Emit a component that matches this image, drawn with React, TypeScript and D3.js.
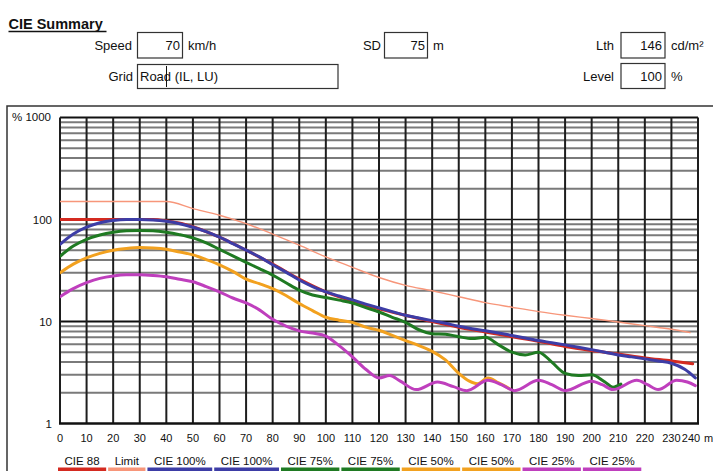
import React from 'react';
import * as d3 from 'd3';

// Data (distance m, luminance %)
const limitData: [number, number][] = [
  [0, 150], [40, 150], [50, 128], [60, 110], [70, 91], [80, 72], [90, 56], [100, 43],
  [110, 34], [120, 27], [130, 22.6], [140, 20], [150, 17.5], [160, 15.3], [170, 13.8],
  [180, 12.5], [190, 11.5], [200, 10.7], [210, 9.9], [220, 9.1], [230, 8.4], [237, 7.8],
];
const cie88Data: [number, number][] = [
  [0, 100], [35, 100], [40, 97], [50, 85], [60, 67], [70, 50], [80, 36.5], [90, 26],
  [100, 19.5], [110, 15.8], [120, 13.3], [130, 11.5], [140, 10], [150, 8.8], [160, 7.9],
  [170, 7.1], [180, 6.4], [190, 5.7], [200, 5.2], [210, 4.8], [220, 4.4], [230, 4.1], [238, 3.85],
];
const cie100Data: [number, number][] = [
  [0, 57], [5, 72], [10, 84], [15, 93], [20, 98], [25, 100], [30, 100], [35, 99], [40, 96],
  [45, 91], [50, 84], [55, 76], [60, 67], [65, 58], [70, 50], [75, 43], [80, 36], [85, 30.5],
  [90, 25.5], [95, 22], [100, 19.5], [105, 17.8], [110, 16.3], [115, 14.8], [120, 13.6],
  [125, 12.5], [130, 11.5], [135, 10.8], [140, 10.2], [145, 9.6], [150, 9], [155, 8.5],
  [160, 8.1], [165, 7.7], [170, 7.3], [175, 6.9], [180, 6.5], [185, 6.2], [190, 5.9],
  [195, 5.6], [200, 5.3], [205, 5], [210, 4.7], [215, 4.5], [220, 4.3], [225, 4.1],
  [230, 3.9], [235, 3.4], [239, 2.8],
];
const cie75Data: [number, number][] = [
  [0, 43.6], [5, 55], [10, 64], [15, 70.5], [20, 75], [25, 77.5], [30, 78], [35, 77.5],
  [40, 75], [45, 71], [50, 66], [55, 59], [60, 51], [65, 44], [70, 38], [75, 33], [80, 28.5],
  [85, 24], [90, 20.3], [95, 18.2], [100, 17.2], [105, 16.2], [110, 15.2], [115, 13.7],
  [120, 12.4], [125, 11], [130, 9.8], [135, 8.3], [140, 7.6], [145, 7.5], [150, 7.1],
  [155, 6.8], [160, 7], [165, 5.9], [170, 5], [175, 4.7], [180, 5], [185, 4], [190, 3.1],
  [195, 2.95], [200, 3], [205, 2.55], [208, 2.27], [211, 2.43],
];
const cie50Data: [number, number][] = [
  [0, 30], [5, 36.5], [10, 42], [15, 46.5], [20, 50], [25, 52], [30, 53], [35, 52.5],
  [40, 51], [45, 48], [50, 45], [55, 40.5], [60, 36], [65, 31], [70, 26], [75, 23.5],
  [80, 21], [85, 18], [90, 15], [95, 12.8], [100, 11], [105, 10.3], [110, 9.8], [115, 8.8],
  [120, 8.2], [125, 7.3], [130, 6.5], [135, 5.8], [140, 5.1], [145, 4.2], [150, 3.1],
  [154, 2.6], [157, 2.45], [161, 2.8], [165, 2.5], [169, 2.2],
];
const cie25Data: [number, number][] = [
  [0, 17.5], [5, 21], [10, 24], [15, 26.5], [20, 28], [25, 28.7], [30, 28.7], [35, 28.3],
  [40, 27.5], [45, 26], [50, 24.5], [55, 22], [60, 19.5], [65, 17], [70, 15.2], [75, 13],
  [80, 10.5], [85, 9], [90, 8.1], [95, 7.7], [100, 7.2], [105, 5.8], [110, 4.5], [115, 3.4],
  [120, 2.8], [124, 2.95], [128, 2.6], [134, 2.15], [142, 2.55], [148, 2.3], [153, 2.1],
  [161, 2.65], [166, 2.4], [171, 2.1], [180, 2.65], [185, 2.4], [190, 2.1], [200, 2.6],
  [204, 2.4], [208, 2.15], [217, 2.65], [221, 2.4], [225, 2.15], [232, 2.65], [236, 2.55],
  [239, 2.35],
];

const xTicks = d3.range(0, 241, 10);
const yDecades = [1, 10, 100, 1000];
const yLabels = ['1', '10', '100', '% 1000'];

const legendLabels = ['CIE 88', 'Limit', 'CIE 100%', 'CIE 100%', 'CIE 75%', 'CIE 75%', 'CIE 50%', 'CIE 50%', 'CIE 25%', 'CIE 25%'];
const legendColors = ['#d42a20', '#f7967a', '#3d3da6', '#3d3da6', '#1f7a22', '#1f7a22', '#f2a11f', '#f2a11f', '#bf3fbd', '#bf3fbd'];

const FONT = 'Arial, "Liberation Sans", Helvetica, sans-serif';

function measure(text: string, size: number) {
  const c = document.createElement('canvas').getContext('2d');
  if (!c) return text.length * size * 0.55;
  c.font = `${size}px "Liberation Sans", Arial, sans-serif`;
  return c.measureText(text).width;
}

export default function App() {
  const x = d3.scaleLinear().domain([0, 240]).range([60, 698]);
  const y = d3.scaleLog().domain([1, 1000]).range([423.5, 117.5]);

  const line = d3.line<[number, number]>()
    .x(d => x(d[0]))
    .y(d => y(d[1]))
    .curve(d3.curveMonotoneX);

  const minors: number[] = [];
  [1, 10, 100].forEach(dec => {
    for (let k = 2; k <= 9; k++) minors.push(dec * k);
  });

  const series = [
    { data: limitData, color: legendColors[1], width: 1.4 },
    { data: cie88Data, color: legendColors[0], width: 3 },
    { data: cie100Data, color: legendColors[2], width: 3 },
    { data: cie75Data, color: legendColors[4], width: 3 },
    { data: cie50Data, color: legendColors[6], width: 3 },
    { data: cie25Data, color: legendColors[8], width: 3 },
  ];

  // legend layout
  let lx = 58;
  const legend = legendLabels.map((label, i) => {
    const w = measure(label, 11.5) + 13;
    const item = { label, color: legendColors[i], x: lx, w };
    lx += w + 2;
    return item;
  });

  const [x0, x1] = x.range();

  return (
    <svg width={713} height={471} style={{ position: 'absolute', left: 0, top: 0, background: '#fff' }}
      fontFamily={FONT}>
      {/* header */}
      <text x={8.5} y={28.5} fontSize={14.5} fontWeight="bold" fill="#111">CIE Summary</text>
      <line x1={8.5} x2={106.5} y1={31.5} y2={31.5} stroke="#111" strokeWidth={1.3} />

      <text x={132} y={50} fontSize={13} textAnchor="end" fill="#111">Speed</text>
      <rect x={137.5} y={32.5} width={45} height={25.5} fill="#fff" stroke="#333" strokeWidth={1.2} />
      <text x={180} y={50} fontSize={13} textAnchor="end" fill="#111">70</text>
      <text x={188} y={50} fontSize={13} fill="#111">km/h</text>

      <text x={133} y={80.5} fontSize={13} textAnchor="end" fill="#111">Grid</text>
      <rect x={137.5} y={64.5} width={200.5} height={24} fill="#fff" stroke="#333" strokeWidth={1.2} />
      <text x={140} y={81} fontSize={13} fill="#111">Road (IL, LU)</text>
      <line x1={166.5} x2={166.5} y1={66} y2={87} stroke="#111" strokeWidth={1} />

      <text x={381} y={50} fontSize={13} textAnchor="end" fill="#111">SD</text>
      <rect x={384.5} y={32.5} width={43} height={25.5} fill="#fff" stroke="#333" strokeWidth={1.2} />
      <text x={425} y={50} fontSize={13} textAnchor="end" fill="#111">75</text>
      <text x={433} y={50} fontSize={13} fill="#111">m</text>

      <text x={614} y={50} fontSize={13} textAnchor="end" fill="#111">Lth</text>
      <rect x={621} y={32.5} width={44} height={25.5} fill="#fff" stroke="#333" strokeWidth={1.2} />
      <text x={662} y={50} fontSize={13} textAnchor="end" fill="#111">146</text>
      <text x={671} y={50} fontSize={13} fill="#111">cd/m²</text>

      <text x={614} y={81} fontSize={13} textAnchor="end" fill="#111">Level</text>
      <rect x={621} y={63.5} width={44} height={25} fill="#fff" stroke="#333" strokeWidth={1.2} />
      <text x={662} y={81} fontSize={13} textAnchor="end" fill="#111">100</text>
      <text x={671} y={81} fontSize={13} fill="#111">%</text>

      {/* frame */}
      <rect x={7} y={106} width={720} height={380} fill="none" stroke="#333" strokeWidth={1.5} />

      {/* grid */}
      <g>
        {minors.map(v => (
          <line key={'m' + v} x1={x0} x2={x1} y1={y(v)} y2={y(v)} stroke="#7a7a7a" strokeWidth={2} />
        ))}
        {yDecades.slice(1).map(v => (
          <line key={'d' + v} x1={x0} x2={x1} y1={y(v)} y2={y(v)} stroke="#111" strokeWidth={v === 100 ? 1.3 : 2.2} />
        ))}
        {xTicks.map(t => (
          <line key={'v' + t} x1={x(t)} x2={x(t)} y1={y(1000)} y2={y(1)} stroke="#1e1e1e" strokeWidth={2} />
        ))}
        <line x1={x0 - 1} x2={x1 + 1} y1={y(1)} y2={y(1)} stroke="#111" strokeWidth={2.5} />
      </g>

      {/* y labels */}
      {yDecades.map((v, i) => (
        <text key={'yl' + v} x={v === 1000 ? 12 : 52} y={y(v) + (v === 1000 ? 3 : 4)} fontSize={11.5}
          textAnchor={v === 1000 ? 'start' : 'end'} fill="#111">{yLabels[i]}</text>
      ))}

      {/* x labels */}
      {xTicks.map(t => (
        <text key={'xl' + t} x={t === 240 ? x(t) - 7 : x(t)} y={441.5} fontSize={11}
          textAnchor="middle" fill="#111">{t}</text>
      ))}
      <text x={704} y={441.5} fontSize={11} fill="#111">m</text>

      {/* curves */}
      <defs>
        <clipPath id="plot-clip">
          <rect x={x0} y={y(1000)} width={x1 - x0} height={y(1) - y(1000)} />
        </clipPath>
      </defs>
      <g clipPath="url(#plot-clip)">
        {series.map((s, i) => (
          <path key={'s' + i} d={line(s.data) || ''} fill="none" stroke={s.color}
            strokeWidth={s.width} strokeLinejoin="round" strokeLinecap="round" />
        ))}
      </g>

      {/* legend */}
      {legend.map((d, i) => (
        <g key={'lg' + i}>
          <text x={d.x + d.w / 2} y={464.5} fontSize={11.5} textAnchor="middle" fill="#111">{d.label}</text>
          <rect x={d.x} y={467.5} width={d.w} height={4} fill={d.color} />
        </g>
      ))}
    </svg>
  );
}
